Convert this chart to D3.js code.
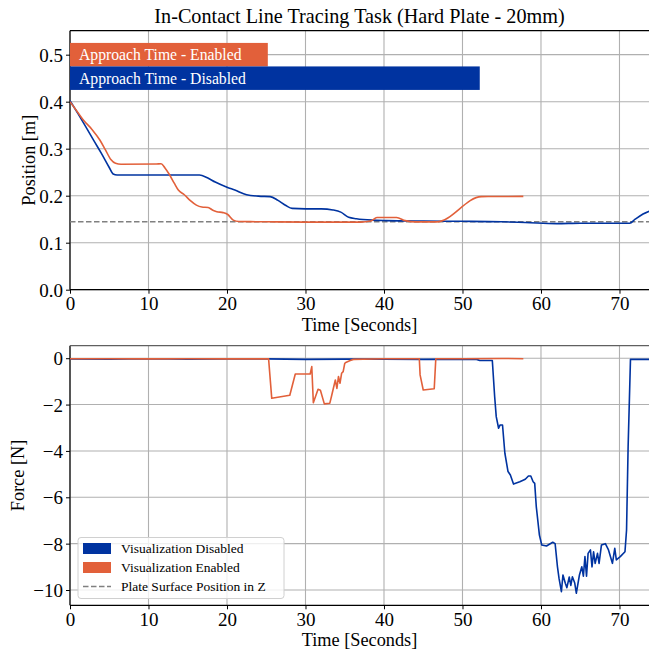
<!DOCTYPE html>
<html>
<head>
<meta charset="utf-8">
<script src="https://cdn.jsdelivr.net/npm/d3@7"></script>
<style>
  body { margin: 0; background: #fff; }
  svg { display: block; font-family: "Liberation Serif", "DejaVu Serif", serif; }
</style>
</head>
<body>
<div id="chart"></div>
<script>
// ---- data ----
const xTicks = [0, 10, 20, 30, 40, 50, 60, 70];
const posTicks = [0.0, 0.1, 0.2, 0.3, 0.4, 0.5];
const forceTicks = [0, -2, -4, -6, -8, -10];

const plateZ = 0.1447;

// approach time bars (seconds)
const barLabels = ["Approach Time - Enabled", "Approach Time - Disabled"];
const barEnds = [25.2, 52.2];
const barCenters = [0.5, 0.45];

// position, visualization disabled (blue)
const posDisT = [0, 1, 2, 3, 4, 5, 5.5, 6, 10, 16.5, 17.5, 18.5, 20, 21, 22.5, 24, 25.5, 26.5, 27.5, 28.3, 30, 32, 33.5, 34.5, 35.5, 36.5, 38.5, 40.3, 45, 50, 55, 58, 62, 65, 71.3, 72, 73, 73.8];
const posDisY = [0.402, 0.375, 0.347, 0.318, 0.29, 0.26, 0.246, 0.244, 0.244, 0.244, 0.238, 0.229, 0.218, 0.212, 0.202, 0.199, 0.198, 0.19, 0.179, 0.173, 0.172, 0.172, 0.1696, 0.165, 0.154, 0.151, 0.148, 0.147, 0.146, 0.1455, 0.1445, 0.143, 0.1405, 0.1415, 0.1415, 0.15, 0.161, 0.167];

// position, visualization enabled (orange)
const posEnT = [0, 1, 1.7, 2.8, 3.8, 4.5, 5.2, 5.8, 6.5, 11, 11.6, 12.1, 12.7, 13.3, 13.8, 14.6, 15.3, 16.1, 16.8, 17.6, 18.2, 18.7, 19.5, 20.1, 20.8, 21.5, 25, 30, 37, 38.3, 39.1, 41.6, 42.7, 44, 46.7, 52.4, 57.75];
const posEnY = [0.4, 0.377, 0.361, 0.341, 0.3185, 0.298, 0.277, 0.269, 0.267, 0.2675, 0.268, 0.259, 0.244, 0.226, 0.212, 0.2015, 0.19, 0.18, 0.176, 0.175, 0.169, 0.166, 0.164, 0.16, 0.148, 0.145, 0.1445, 0.1438, 0.1438, 0.146, 0.1535, 0.1535, 0.147, 0.1442, 0.1442, 0.198, 0.1985];

// force, visualization disabled (blue)
const forceDisT = [0, 5, 10, 15, 20, 25, 30, 35, 40, 45, 50, 51.8, 52.2, 53.8, 54.1, 54.3, 54.6, 54.8, 55.1, 55.4, 55.8, 56.1, 56.5, 57.3, 58.0, 58.4, 58.7, 59.0, 59.2, 59.4, 59.8, 60.1, 60.7, 61.5, 61.8, 62.1, 62.3, 62.6, 62.8, 63.1, 63.3, 63.6, 63.8, 64.0, 64.3, 64.5, 64.9, 65.2, 65.4, 65.6, 65.8, 66.0, 66.3, 66.5, 66.7, 66.9, 67.2, 67.4, 67.7, 68.2, 68.6, 69.1, 69.4, 69.6, 70.1, 70.7, 70.9, 71.1, 71.4, 72.5, 73.8];
const forceDisY = [-0.03, -0.04, -0.02, -0.04, -0.03, -0.03, -0.05, -0.04, -0.04, -0.05, -0.04, -0.05, -0.1, -0.1, -1.66, -2.52, -3.02, -2.88, -2.88, -4.1, -4.89, -5.04, -5.43, -5.33, -5.22, -5.08, -5.08, -5.33, -5.4, -6.4, -7.63, -8.06, -8.1, -7.94, -8.0, -9.0, -9.5, -10.07, -9.35, -9.71, -9.9, -9.44, -9.8, -9.43, -9.7, -10.14, -9.35, -9.0, -9.4, -8.56, -9.4, -8.42, -8.27, -9.0, -8.35, -8.85, -8.42, -8.85, -8.06, -8.0, -8.27, -8.85, -8.2, -8.7, -8.56, -8.35, -7.41, -3.82, -0.05, -0.05, -0.05];

// force, visualization enabled (orange)
const forceEnT = [0, 5, 10, 15, 20, 25.3, 25.7, 28.0, 28.7, 30.6, 30.8, 31.0, 31.6, 31.9, 32.4, 33.1, 33.3, 33.8, 34.0, 34.2, 34.4, 34.6, 34.8, 35.0, 35.2, 35.7, 36.1, 40, 44.5, 44.6, 45.0, 46.4, 46.6, 50, 55, 57.75];
const forceEnY = [-0.02, -0.02, -0.03, -0.02, -0.03, -0.03, -1.73, -1.6, -0.68, -0.68, -0.36, -1.92, -1.34, -1.38, -1.97, -1.94, -1.66, -0.94, -1.3, -0.79, -1.08, -0.65, -0.58, -0.22, -0.17, -0.1, -0.05, -0.02, -0.02, -0.72, -1.37, -1.32, -0.02, -0.02, -0.01, -0.02];

const legendLabels = ["Visualization Disabled", "Visualization Enabled", "Plate Surface Position in Z"];

// ---- styling ----
const width = 649, height = 654;
const blue = "#0033a0", orange = "#e2603a", gridColor = "#b0b0b0";
const left = 70, right = 649;

const svg = d3.select("#chart").append("svg")
    .attr("width", width)
    .attr("height", height);

svg.append("defs").append("clipPath").attr("id", "clipTop")
    .append("rect").attr("x", left).attr("y", 31).attr("width", right - left).attr("height", 259);
svg.select("defs").append("clipPath").attr("id", "clipBot")
    .append("rect").attr("x", left).attr("y", 346).attr("width", right - left).attr("height", 259);

const x = d3.scaleLinear().domain([0, 73.76]).range([left, right]);
const yPos = d3.scaleLinear().domain([0, 0.551]).range([289.7, 30.7]);
const yForce = d3.scaleLinear().domain([-10.66, 0.54]).range([605.3, 345.7]);

function zip(ts, vs) { return ts.map((t, i) => [t, vs[i]]); }

function drawPanel(y, yTicks, fmt, top, bottom, clipId, ylabel, ylabelX, topSpine) {
    const g = svg.append("g");
    // grid
    g.selectAll(".vgrid").data(xTicks).join("line")
        .attr("x1", d => x(d)).attr("x2", d => x(d))
        .attr("y1", top).attr("y2", bottom)
        .attr("stroke", gridColor).attr("stroke-width", 1.1);
    g.selectAll(".hgrid").data(yTicks).join("line")
        .attr("x1", left).attr("x2", right)
        .attr("y1", d => y(d)).attr("y2", d => y(d))
        .attr("stroke", gridColor).attr("stroke-width", 1.1);

    // axes
    const xAxis = d3.axisBottom(x).tickValues(xTicks).tickSize(4).tickPadding(3).tickFormat(d3.format("d"));
    const ax = svg.append("g").attr("transform", "translate(0," + bottom + ")").call(xAxis);
    const yAxis = d3.axisLeft(y).tickValues(yTicks).tickSize(4).tickPadding(3).tickFormat(fmt);
    const ay = svg.append("g").attr("transform", "translate(" + left + ",0)").call(yAxis);
    [ax, ay].forEach(a => {
        a.attr("font-family", null).attr("font-size", null);
        a.select(".domain").remove();
        a.selectAll("line").attr("stroke", "#000").attr("stroke-width", 1);
        a.selectAll("text").attr("font-size", 19).attr("fill", "#000");
    });
    ay.selectAll("text").attr("dy", "0.35em");

    // spines
    svg.append("line").attr("x1", left).attr("x2", right).attr("y1", bottom).attr("y2", bottom)
        .attr("stroke", "#000").attr("stroke-width", 1.2);
    svg.append("line").attr("x1", left).attr("x2", left).attr("y1", top).attr("y2", bottom)
        .attr("stroke", "#000").attr("stroke-width", 1.2);
    svg.append("line").attr("x1", left).attr("x2", right).attr("y1", top).attr("y2", top)
        .attr("stroke", topSpine).attr("stroke-width", 1.2);

    svg.append("text")
        .attr("x", (left + right) / 2).attr("y", bottom + 41)
        .attr("text-anchor", "middle").attr("font-size", 18.3)
        .text("Time [Seconds]");
    svg.append("text")
        .attr("transform", "translate(" + ylabelX + "," + ((top + bottom) / 2) + ") rotate(-90)")
        .attr("text-anchor", "middle").attr("font-size", 18.3)
        .text(ylabel);

    return svg.append("g").attr("clip-path", "url(#" + clipId + ")");
}

// ---- top panel ----
const pTop = drawPanel(yPos, posTicks, d3.format(".1f"), 30.7, 289.7, "clipTop", "Position [m]", 34.5, "#000");

const barH = yPos(0) - yPos(0.05);
[orange, blue].forEach((c, i) => {
    pTop.append("rect")
        .attr("x", x(0)).attr("y", yPos(barCenters[i] + 0.025))
        .attr("width", x(barEnds[i]) - x(0)).attr("height", barH)
        .attr("fill", c);
    pTop.append("text")
        .attr("x", x(0) + 9).attr("y", yPos(barCenters[i]))
        .attr("dy", "0.35em").attr("fill", "#fff").attr("font-size", 15.7)
        .text(barLabels[i]);
});

const line = d3.line().x(d => x(d[0]));
pTop.append("line")
    .attr("x1", left).attr("x2", right)
    .attr("y1", yPos(plateZ)).attr("y2", yPos(plateZ))
    .attr("stroke", "#808080").attr("stroke-width", 1.5).attr("stroke-dasharray", "5.5,2.5");
pTop.append("path").datum(zip(posDisT, posDisY))
    .attr("d", line.y(d => yPos(d[1])).curve(d3.curveMonotoneX))
    .attr("fill", "none").attr("stroke", blue).attr("stroke-width", 1.6);
pTop.append("path").datum(zip(posEnT, posEnY))
    .attr("d", line.y(d => yPos(d[1])).curve(d3.curveMonotoneX))
    .attr("fill", "none").attr("stroke", orange).attr("stroke-width", 1.6);

// title
svg.append("text")
    .attr("x", (left + right) / 2).attr("y", 23)
    .attr("text-anchor", "middle").attr("font-size", 20.2)
    .text("In-Contact Line Tracing Task (Hard Plate - 20mm)");

// ---- bottom panel ----
const minusFmt = d => d3.format("d")(d).replace("-", "\u2212");
const pBot = drawPanel(yForce, forceTicks, minusFmt, 345.7, 605.3, "clipBot", "Force [N]", 23.5, "#606060");

const fline = d3.line().x(d => x(d[0])).y(d => yForce(d[1]));
pBot.append("path").datum(zip(forceDisT, forceDisY))
    .attr("d", fline)
    .attr("fill", "none").attr("stroke", blue).attr("stroke-width", 1.6).attr("stroke-linejoin", "round");
pBot.append("path").datum(zip(forceEnT, forceEnY))
    .attr("d", fline)
    .attr("fill", "none").attr("stroke", orange).attr("stroke-width", 1.6).attr("stroke-linejoin", "round");

// legend
const lg = svg.append("g").attr("transform", "translate(78,537.5)");
lg.append("rect")
    .attr("width", 206).attr("height", 61).attr("rx", 3)
    .attr("fill", "#fff").attr("fill-opacity", 0.8)
    .attr("stroke", "#d0d0d0").attr("stroke-width", 1);
legendLabels.forEach((lab, i) => {
    const cy = 11 + i * 19;
    if (i < 2) {
        lg.append("rect").attr("x", 5).attr("y", cy - 5.5).attr("width", 28).attr("height", 11)
            .attr("fill", i === 0 ? blue : orange);
    } else {
        lg.append("line").attr("x1", 5).attr("x2", 33).attr("y1", cy).attr("y2", cy)
            .attr("stroke", "#808080").attr("stroke-width", 1.5).attr("stroke-dasharray", "5.5,2.5");
    }
    lg.append("text").attr("x", 43).attr("y", cy).attr("dy", "0.35em")
        .attr("font-size", 13.5).text(lab);
});
</script>
</body>
</html>
